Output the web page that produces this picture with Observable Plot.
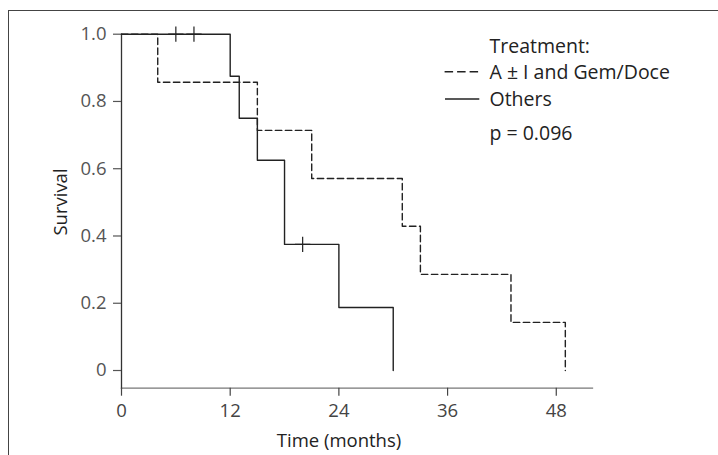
<!DOCTYPE html>
<html><head><meta charset="utf-8">
<script src="https://cdn.jsdelivr.net/npm/d3@7"></script>
<script src="https://cdn.jsdelivr.net/npm/@observablehq/plot@0.6"></script>
<style>
html,body{margin:0;padding:0;background:#fff;}
#wrap{position:relative;width:718px;height:455px;overflow:hidden;}
#box{position:absolute;left:8px;top:9.5px;right:-5px;bottom:-5px;border-top:1.5px solid #444;border-left:1.5px solid #444;}
#chart svg{position:absolute;left:0;top:0;}
</style></head><body><div id="wrap"><div id="box"></div><div id="chart"></div></div>
<script>
const groups = ["A ± I and Gem/Doce", "Others"];
const timesA = [0, 4, 15, 21, 31, 33, 43, 49];
const survA = [1, 0.857, 0.714, 0.571, 0.429, 0.286, 0.143, 0];
const timesO = [0, 12, 13, 15, 18, 24, 30];
const survO = [1, 0.875, 0.75, 0.625, 0.375, 0.1875, 0];
const censorTimes = [6, 8, 20];
const censorSurv = [1, 1, 0.375];
const xTicks = [0, 12, 24, 36, 48];
const yTicks = [0, 0.2, 0.4, 0.6, 0.8, 1.0];
const legendTitle = "Treatment:";
const pText = "p = 0.096";
const xLabel = "Time (months)";
const yLabel = "Survival";

const dataA = timesA.map((t, i) => ({group: groups[0], t, s: survA[i]}));
const dataO = timesO.map((t, i) => ({group: groups[1], t, s: survO[i]}));
const censor = censorTimes.map((t, i) => ({t, s: censorSurv[i]}));

const ink = "#222";
const legendText = (txt, dy) => Plot.text([txt], {
  frameAnchor: "top-left", dx: 368, dy, textAnchor: "start", lineAnchor: "bottom", fill: ink, fontSize: 19.5
});

const chart = Plot.plot({
  width: 718, height: 455,
  marginLeft: 121, marginRight: 126, marginTop: 33.7, marginBottom: 67.3,
  style: {fontFamily: "'Open Sans', sans-serif", fontSize: "18.5px", color: "#333", background: "transparent"},
  x: {domain: [0, 52]},
  y: {domain: [-0.0526, 1]},
  marks: [
    Plot.frame({anchor: "bottom", stroke: "#777", strokeWidth: 1.3}),
    Plot.frame({anchor: "left", stroke: "#333", strokeWidth: 1.3}),
    Plot.axisX({ticks: xTicks, tickSize: 8, tickPadding: 8, label: null, tickFormat: d => String(d), color: "#444", strokeWidth: 1.2}),
    Plot.axisY({ticks: yTicks, tickSize: 8, tickPadding: 7, label: null, tickFormat: d => d === 0 ? "0" : d.toFixed(1), color: "#555", strokeWidth: 1.2}),
    Plot.line(dataA, {x: "t", y: "s", curve: "step-after", stroke: ink, strokeWidth: 1.4, strokeDasharray: "6.5,3.5"}),
    Plot.line(dataO, {x: "t", y: "s", curve: "step-after", stroke: ink, strokeWidth: 1.4}),
    Plot.dot(censor, {x: "t", y: "s", symbol: "plus", r: 5, stroke: ink, strokeWidth: 1.2}),
    Plot.text([yLabel], {frameAnchor: "left", dx: -60.2, dy: -9.2, rotate: -90, textAnchor: "middle", lineAnchor: "middle", fill: ink}),
    Plot.text([xLabel], {frameAnchor: "bottom", dx: -18, dy: 58.3, textAnchor: "middle", lineAnchor: "bottom", fill: ink}),
    legendText(legendTitle, 19),
    legendText(groups[0], 44.6),
    legendText(groups[1], 71.3),
    legendText(pText, 105.6)
  ]
});

const svg = d3.select(chart);
const lg = svg.append("g").attr("stroke", ink).attr("stroke-width", 1.4);
lg.append("line").attr("x1", 444.6).attr("x2", 478.5).attr("y1", 71.7).attr("y2", 71.7).attr("stroke-dasharray", "8.5,4");
lg.append("line").attr("x1", 445).attr("x2", 479.3).attr("y1", 99).attr("y2", 99);

document.getElementById("chart").appendChild(chart);
</script>
</body></html>
